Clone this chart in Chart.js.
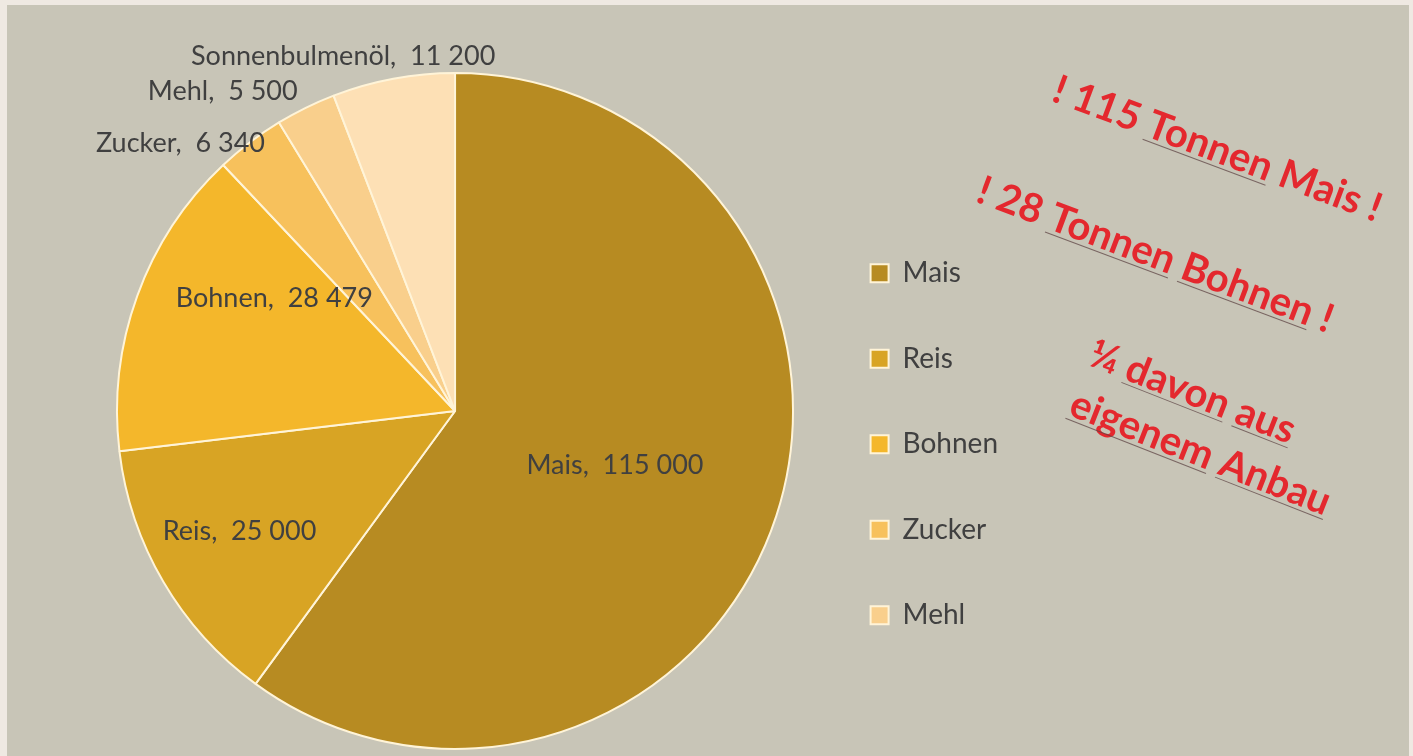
<!DOCTYPE html>
<html>
<head>
<meta charset="utf-8">
<script src="https://cdn.jsdelivr.net/npm/chart.js@4/dist/chart.umd.min.js"></script>
<style>
  html, body { margin: 0; padding: 0; background: #efe9e2; width: 1413px; height: 756px; overflow: hidden; }
  #panel { position: absolute; left: 7px; top: 5px; width: 1402px; height: 751px; background: #c8c5b7; }
  canvas { display: block; }
</style>
</head>
<body>
<div id="panel"><canvas id="c" width="1402" height="751"></canvas></div>
<script>
// ---- data ----
const categories = ['Mais', 'Reis', 'Bohnen', 'Zucker', 'Mehl', 'Sonnenbulmenöl'];
const values = [115000, 25000, 28479, 6340, 5500, 11200];
const sliceColors = ['#b78b22', '#d8a424', '#f4b72b', '#f7c15c', '#f9cf8c', '#fde0b5'];
const notes = ['! 115 Tonnen Mais !', '! 28 Tonnen Bohnen !', '¼ davon aus', 'eigenem Anbau'];

// ---- styling / placement ----
const FONT = 'Lato, "Open Sans", sans-serif';
const labelPlacement = [
  { mode: 'in', f: 0.50, da: 0.8 },
  { mode: 'in', f: 0.73, da: 1.2 },
  { mode: 'in', f: 0.63, da: 12 },
  { mode: 'out', dx: 15, dy: 1, align: 'right' },
  { mode: 'out', dx: -8, dy: -16, align: 'right' },
  { mode: 'out', dx: 102, dy: -22, align: 'right' }
];
// positions in canvas coords (panel offset 7,5); underline = word indexes
const notePlacement = [
  { x: 1210, y: 145, rot: 20.5, under: [2] },
  { x: 1148, y: 251, rot: 20.5, under: [2, 3] },
  { x: 1185, y: 388, rot: 21.5, under: [1, 2] },
  { x: 1193, y: 449, rot: 21.5, under: [0, 1] }
];

function fmt(v) {
  return String(v).replace(/\B(?=(\d{3})+(?!\d))/g, ' ');
}

const sliceLabels = {
  id: 'sliceLabels',
  afterDatasetsDraw(chart) {
    const ctx = chart.ctx;
    const meta = chart.getDatasetMeta(0);
    ctx.save();
    ctx.font = '27px ' + FONT;
    ctx.fillStyle = '#404040';
    ctx.textBaseline = 'middle';
    meta.data.forEach((arc, i) => {
      const p = arc.getProps(['x', 'y', 'startAngle', 'endAngle', 'outerRadius'], true);
      const pl = labelPlacement[i];
      const text = categories[i] + ',  ' + fmt(values[i]);
      if (pl.mode === 'in') {
        const a = (p.startAngle + p.endAngle) / 2 + pl.da * Math.PI / 180;
        const r = p.outerRadius * pl.f;
        ctx.textAlign = 'center';
        ctx.fillText(text, p.x + Math.cos(a) * r, p.y + Math.sin(a) * r);
      } else {
        const a = (p.startAngle + p.endAngle) / 2;
        const ox = p.x + Math.cos(a) * p.outerRadius;
        const oy = p.y + Math.sin(a) * p.outerRadius;
        ctx.textAlign = pl.align;
        ctx.fillText(text, ox + pl.dx, oy + pl.dy);
      }
    });
    ctx.restore();
  }
};

const noteText = {
  id: 'noteText',
  afterDraw(chart) {
    const ctx = chart.ctx;
    ctx.save();
    ctx.font = 'bold 40px ' + FONT;
    notes.forEach((t, i) => {
      const pl = notePlacement[i];
      ctx.save();
      ctx.translate(pl.x, pl.y);
      ctx.rotate(pl.rot * Math.PI / 180);
      ctx.textAlign = 'left';
      ctx.textBaseline = 'alphabetic';
      const w = ctx.measureText(t).width;
      const x0 = -w / 2;
      ctx.fillStyle = '#e4282e';
      ctx.fillText(t, x0, 12);
      const words = t.split(' ');
      ctx.strokeStyle = 'rgba(95,70,70,0.75)';
      ctx.lineWidth = 1;
      pl.under.forEach((k) => {
        const pre = words.slice(0, k).join(' ') + (k > 0 ? ' ' : '');
        const sx = x0 + ctx.measureText(pre).width;
        const sw = ctx.measureText(words[k]).width;
        ctx.beginPath();
        ctx.moveTo(sx, 16);
        ctx.lineTo(sx + sw, 16);
        ctx.stroke();
      });
      ctx.restore();
    });
    ctx.restore();
  }
};

new Chart(document.getElementById('c'), {
  type: 'pie',
  data: {
    labels: categories,
    datasets: [{
      data: values,
      backgroundColor: sliceColors,
      borderColor: '#fff4d8',
      borderWidth: 2
    }]
  },
  options: {
    responsive: false,
    animation: false,
    layout: { padding: { left: 90, right: 401, top: 67, bottom: 6 } },
    plugins: {
      tooltip: { enabled: false },
      legend: {
        position: 'right',
        align: 'center',
        title: { display: true, text: '', padding: { top: 52, bottom: 0 } },
        labels: {
          font: { family: FONT, size: 28 },
          color: '#404040',
          boxWidth: 18,
          boxHeight: 18,
          padding: 57.5,
          filter: (item) => item.index < 5
        }
      }
    }
  },
  plugins: [sliceLabels, noteText]
});
</script>
</body>
</html>
